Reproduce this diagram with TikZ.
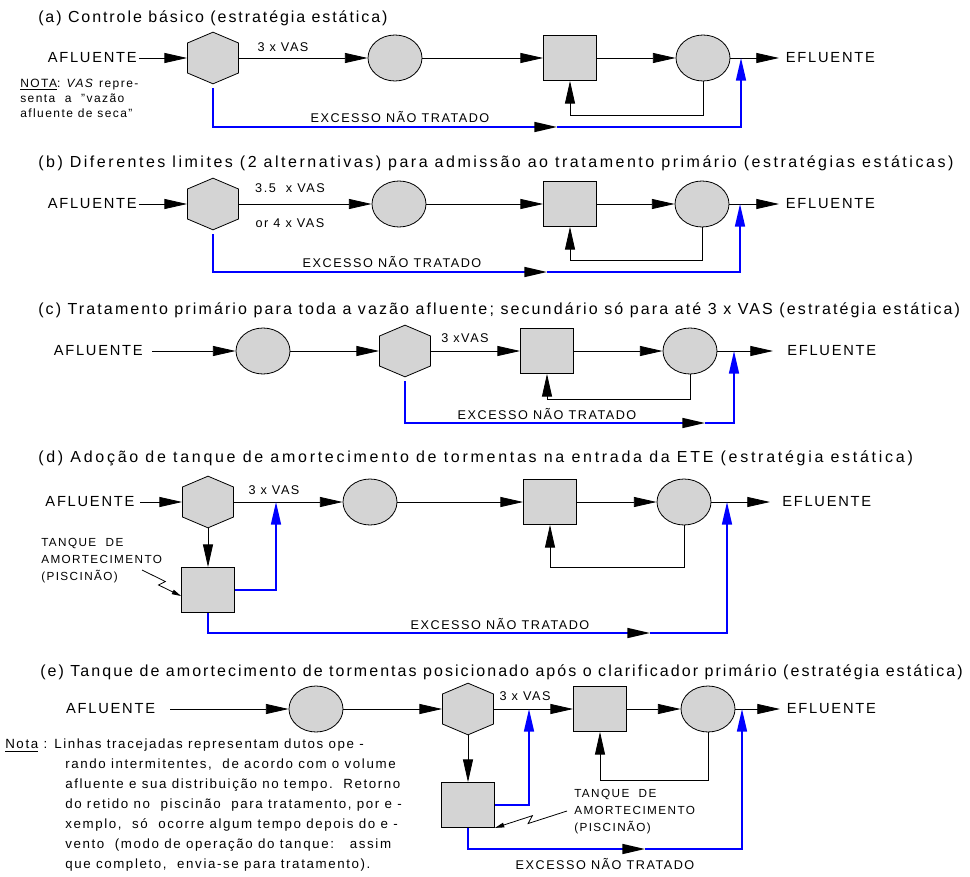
\documentclass[tikz,border=0pt]{standalone}
\usepackage{fontspec}
\setmainfont{Liberation Sans}[LetterSpace=12]
\usetikzlibrary{arrows.meta,shapes.geometric,shapes.symbols,calc}

\tikzset{
  etapa/.style={draw=black, line width=0.6pt, fill=black!17, inner sep=0pt},
  hexa/.style={etapa, signal, signal to=north and south, signal pointer angle=134,
    minimum width=38.25pt, minimum height=22.5pt},
  elip/.style={etapa, ellipse, minimum width=40.5pt, minimum height=34.5pt},
  caixa/.style={etapa, rectangle, minimum width=39.75pt, minimum height=33.75pt},
  titulo/.style={anchor=west, inner sep=0pt, font=\fontsize{12}{14}\selectfont},
  entrada/.style={anchor=east, inner sep=1.5pt, font=\fontsize{11}{13}\selectfont},
  saida/.style={anchor=west, inner xsep=5pt, inner ysep=0pt, font=\fontsize{11}{13}\selectfont},
  rotulo/.style={inner sep=0pt, font=\fontsize{9.5}{11}\selectfont},
  tanque/.style={inner sep=0pt, align=left, font=\fontsize{8.8}{12.75}\selectfont},
  nota/.style={inner sep=0pt, align=left, font=\fontsize{9}{11.25}\selectfont},
  notae/.style={inner sep=0pt, align=left, font=\fontsize{10}{15}\selectfont},
  fluxo/.style={line width=0.6pt, ->},
  excesso/.style={draw=blue, line width=1.2pt},
  meio/.style={-{Triangle[length=17pt, width=7.5pt, color=black]}},
  raio/.style={line width=0.6pt, -{Triangle[length=7pt, width=3.5pt]}}
}

% seta em zigue-zague (raio) de #1 ate #2
\newcommand\Raio[2]{
  \draw[raio] (#1) -- ($(#1)!0.55!(#2)!2.5pt!90:(#2)$)
    -- ($(#1)!0.47!(#2)!2.5pt!-90:(#2)$) -- (#2) ;
}

\begin{document}
\begin{tikzpicture}[x=0.75pt, y=-0.75pt, >={Triangle[length=17pt, width=7.5pt]}]
  \useasboundingbox (0,0) rectangle (970,877);

  % (a)
  \node[titulo] (ta) at (38,18) {(a) Controle básico (estratégia estática)};
  \node[entrada] (afla) at (139,58) {AFLUENTE};
  \node[hexa] (a1) at (213,58) {};
  \node[elip] (a2) at (395,58) {};
  \node[caixa] (a3) at (570,58) {};
  \node[elip] (a4) at (703,58) {};
  \node[saida] (efla) at (779,58) {EFLUENTE};
  \coordinate (aj) at (741,58);
  \coordinate (am) at (557,127);
  \node[rotulo] (va) at (283,47) {3 x VAS};
  \node[rotulo] (xa) at (400,117) {EXCESSO NÃO TRATADO};
  \node[nota, anchor=north west] (na) at (20,79)
    {\underline{NOTA}: \textit{VAS} repre-\\senta\ \ a\ \ "vazão\\afluente de seca"};
  \draw[fluxo] (afla) -- (a1);
  \draw[fluxo] (a1) -- (a2);
  \draw[fluxo] (a2) -- (a3);
  \draw[fluxo] (a3) -- (a4);
  \draw[fluxo] (a4) -- (efla);
  \draw[fluxo] (a4.south) -- ++(0,34) -| (a3.south);
  \draw[excesso, meio, shorten <=3pt] (a1.south) |- (am);
  \draw[excesso, ->] (am) -| (aj);

  % (b)
  \node[titulo] (tb) at (38,163) {\addfontfeature{LetterSpace=15.8}(b) Diferentes limites (2 alternativas) para admissão ao tratamento primário (estratégias estáticas)};
  \node[entrada] (aflb) at (139,204) {AFLUENTE};
  \node[hexa] (b1) at (213,204) {};
  \node[elip] (b2) at (399,204) {};
  \node[caixa] (b3) at (570,204) {};
  \node[elip] (b4) at (702,204) {};
  \node[saida] (eflb) at (779,204) {EFLUENTE};
  \coordinate (bj) at (740,204);
  \coordinate (bm) at (547,272);
  \node[rotulo] (vb1) at (290,188) {3.5\ \ x VAS};
  \node[rotulo] (vb2) at (290,223) {or 4 x VAS};
  \node[rotulo] (xb) at (392,262) {EXCESSO NÃO TRATADO};
  \draw[fluxo] (aflb) -- (b1);
  \draw[fluxo] (b1) -- (b2);
  \draw[fluxo] (b2) -- (b3);
  \draw[fluxo] (b3) -- (b4);
  \draw[fluxo] (b4) -- (eflb);
  \draw[fluxo] (b4.south) -- ++(0,33) -| (b3.south);
  \draw[excesso, meio, shorten <=3pt] (b1.south) |- (bm);
  \draw[excesso, ->] (bm) -| (bj);

  % (c)
  \node[titulo] (tc) at (38,310) {\addfontfeature{LetterSpace=13.2}(c) Tratamento primário para toda a vazão afluente; secundário só para até 3 x VAS (estratégia estática)};
  \node[entrada, inner xsep=6.75pt] (aflc) at (152,351) {AFLUENTE};
  \node[elip] (c1) at (263,351) {};
  \node[hexa] (c2) at (405,351) {};
  \node[caixa] (c3) at (547,351) {};
  \node[elip] (c4) at (690,351) {};
  \node[saida, inner xsep=10.5pt] (eflc) at (773,351) {EFLUENTE};
  \coordinate (cj) at (734,351);
  \coordinate (cm) at (705,423);
  \node[rotulo] (vc) at (465,338) {3 xVAS};
  \node[rotulo] (xc) at (547,414) {EXCESSO NÃO TRATADO};
  \draw[fluxo] (aflc) -- (c1);
  \draw[fluxo] (c1) -- (c2);
  \draw[fluxo] (c2) -- (c3);
  \draw[fluxo] (c3) -- (c4);
  \draw[fluxo] (c4) -- (eflc);
  \draw[fluxo] (c4.south) -- ++(0,25) -| (c3.south);
  \draw[excesso, meio, shorten <=3pt] (c2.south) |- (cm);
  \draw[excesso, ->] (cm) -| (cj);

  % (d)
  \node[titulo] (td) at (38,458) {\addfontfeature{LetterSpace=17}(d) Adoção de tanque de amortecimento de tormentas na entrada da ETE (estratégia estática)};
  \node[entrada, inner xsep=4pt] (afld) at (140,502) {AFLUENTE};
  \node[hexa] (d1) at (208,502) {};
  \node[elip] (d2) at (370,502) {};
  \node[caixa] (d3) at (550,502) {};
  \node[elip] (d4) at (684,502) {};
  \node[caixa] (d5) at (208,590) {};
  \node[saida, inner xsep=9pt] (efld) at (770,502) {EFLUENTE};
  \coordinate (dj1) at (276,502);
  \coordinate (dj2) at (727,502);
  \coordinate (dm) at (650,633);
  \coordinate (rd) at (142,570);
  \node[rotulo] (vd) at (274,490) {3 x VAS};
  \node[rotulo] (xd) at (500,624) {EXCESSO NÃO TRATADO};
  \node[tanque, anchor=north west] (ld) at (41,538) {TANQUE\ \ DE\\AMORTECIMENTO\\(PISCINÃO)};
  \draw[fluxo] (afld) -- (d1);
  \draw[fluxo] (d1) -- (d2);
  \draw[fluxo] (d2) -- (d3);
  \draw[fluxo] (d3) -- (d4);
  \draw[fluxo] (d4) -- (efld);
  \draw[fluxo] (d1) -- (d5);
  \draw[fluxo] (d4.south) -- ++(0,42) -| (d3.south);
  \draw[excesso, ->] (d5.east) -| (dj1);
  \draw[excesso, meio] (d5.south) |- (dm);
  \draw[excesso, ->] (dm) -| (dj2);
  \Raio{rd}{[yshift=-4.5pt]d5.west}

  % (e)
  \node[titulo] (te) at (40,672) {\addfontfeature{LetterSpace=12.8}(e) Tanque de amortecimento de tormentas posicionado após o clarificador primário (estratégia estática)};
  \node[entrada, inner xsep=11pt] (afle) at (170,709) {AFLUENTE};
  \node[elip] (e1) at (316,709) {};
  \node[hexa] (e2) at (468,709) {};
  \node[caixa] (e3) at (600,709) {};
  \node[elip] (e4) at (708,709) {};
  \node[caixa] (e5) at (468,805) {};
  \node[saida] (efle) at (780,709) {EFLUENTE};
  \coordinate (ej1) at (529,709);
  \coordinate (ej2) at (742,709);
  \coordinate (em) at (645,849);
  \coordinate (re) at (567,811);
  \node[rotulo] (ve) at (525,696) {3 x VAS};
  \node[rotulo] (xe) at (605,864) {EXCESSO NÃO TRATADO};
  \node[tanque, anchor=north west] (le) at (574,789) {TANQUE\ \ DE\\AMORTECIMENTO\\(PISCINÃO)};
  \node[notae, anchor=north west] (ne1) at (5,739) {\underline{Nota} : Linhas tracejadas representam dutos ope -};
  \node[notae, anchor=north west] (ne2) at (65,759)
    {rando intermitentes,\ \ de acordo com o volume\\
     afluente e sua distribuição no tempo.\ \ Retorno\\
     do retido no\ \ piscinão\ \ para tratamento,\ por e -\\
     xemplo,\ \ só\ \ ocorre algum tempo depois do e -\\
     vento\ \ (modo de operação do tanque:\ \ \ assim\\
     que completo,\ \ envia-se para tratamento).};
  \draw[fluxo] (afle) -- (e1);
  \draw[fluxo] (e1) -- (e2);
  \draw[fluxo] (e2) -- (e3);
  \draw[fluxo] (e3) -- (e4);
  \draw[fluxo] (e4) -- (efle);
  \draw[fluxo] (e2) -- (e5);
  \draw[fluxo] (e4.south) -- ++(0,48) -| (e3.south);
  \draw[excesso, ->] (e5.east) -| (ej1);
  \draw[excesso, meio] (e5.south) |- (em);
  \draw[excesso, ->] (em) -| (ej2);
  \Raio{re}{e5.south east}
\end{tikzpicture}
\end{document}
